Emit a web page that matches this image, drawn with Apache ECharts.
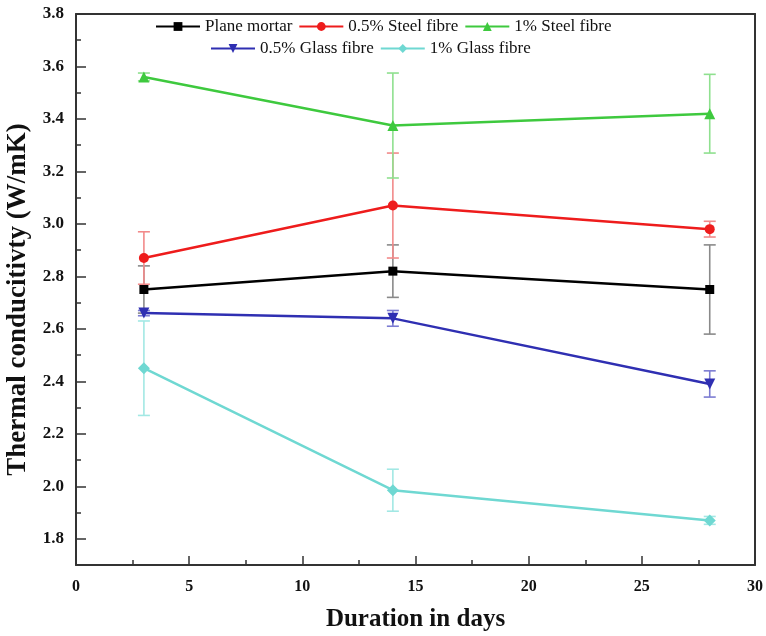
<!DOCTYPE html>
<html>
<head>
<meta charset="utf-8">
<script src="https://cdn.jsdelivr.net/npm/echarts@6/dist/echarts.min.js"></script>
<style>
  html, body { margin: 0; padding: 0; background: #fff; }
  #chart { width: 766px; height: 636px; }
</style>
</head>
<body>
<div id="chart"></div>
<script>
// Curing age (days)
var days = [3, 14, 28];

// Thermal conductivity (W/mK) and standard deviation per mix
var planeMortar    = [2.75, 2.82, 2.75];
var planeMortarErr = [0.09, 0.10, 0.17];
var steel05        = [2.87, 3.07, 2.98];
var steel05Err     = [0.10, 0.20, 0.03];
var steel1         = [3.56, 3.375, 3.42];
var steel1Err      = [0.015, 0.20, 0.15];
var glass05        = [2.66, 2.64, 2.39];
var glass05Err     = [0.01, 0.03, 0.05];
var glass1         = [2.45, 1.985, 1.87];
var glass1Err      = [0.18, 0.08, 0.015];

// Axis ticks
var yMajorTicks = [1.8, 2.0, 2.2, 2.4, 2.6, 2.8, 3.0, 3.2, 3.4, 3.6, 3.8];
var yMinorTicks = [1.9, 2.1, 2.3, 2.5, 2.7, 2.9, 3.1, 3.3, 3.5, 3.7];

var serif = '"Liberation Serif", "Times New Roman", serif';
var axisColor = '#333';

var mixes = [
  { name: 'Plane mortar',      values: planeMortar, err: planeMortarErr, color: '#000000', errColor: '#8a8a8a', symbol: 'rect',     size: 9,  rotate: 0 },
  { name: '0.5% Steel fibre',  values: steel05,     err: steel05Err,     color: '#ee1c1c', errColor: '#f28a8a', symbol: 'circle',   size: 10, rotate: 0 },
  { name: '1% Steel fibre',    values: steel1,      err: steel1Err,      color: '#3ec93e', errColor: '#8fe08f', symbol: 'triangle', size: 11, rotate: 0 },
  { name: '0.5% Glass fibre',  values: glass05,     err: glass05Err,     color: '#2f2fb2', errColor: '#7c7cd2', symbol: 'triangle', size: 11, rotate: 180 },
  { name: '1% Glass fibre',    values: glass1,      err: glass1Err,      color: '#6fd8d2', errColor: '#a2e8e4', symbol: 'diamond',  size: 12, rotate: 0 }
];

function errorBarRenderer(color) {
  return function (params, api) {
    var x = api.value(0);
    var lo = api.coord([x, api.value(1)]);
    var hi = api.coord([x, api.value(2)]);
    var half = 6;
    var style = { stroke: color, lineWidth: 1.6 };
    return {
      type: 'group',
      children: [
        { type: 'line', shape: { x1: lo[0], y1: lo[1], x2: hi[0], y2: hi[1] }, style: style },
        { type: 'line', shape: { x1: lo[0] - half, y1: lo[1], x2: lo[0] + half, y2: lo[1] }, style: style },
        { type: 'line', shape: { x1: hi[0] - half, y1: hi[1], x2: hi[0] + half, y2: hi[1] }, style: style }
      ]
    };
  };
}

var series = [];
mixes.forEach(function (m) {
  series.push({
    type: 'custom',
    name: m.name + ' error',
    renderItem: errorBarRenderer(m.errColor),
    data: days.map(function (d, i) { return [d, m.values[i] - m.err[i], m.values[i] + m.err[i]]; }),
    encode: { x: 0, y: [1, 2] },
    z: 1,
    silent: true
  });
});
mixes.forEach(function (m) {
  series.push({
    type: 'line',
    name: m.name,
    data: days.map(function (d, i) { return [d, m.values[i]]; }),
    symbol: m.symbol,
    symbolSize: m.size,
    symbolRotate: m.rotate,
    showAllSymbol: true,
    lineStyle: { color: m.color, width: 2.5 },
    itemStyle: { color: m.color },
    z: 3
  });
});

var legendText = { fontFamily: serif, fontSize: 17, color: '#111' };

var option = {
  animation: false,
  backgroundColor: '#ffffff',
  grid: { left: 76, right: 11, top: 14, bottom: 71, containLabel: false, outerBoundsMode: 'none' },
  legend: [
    {
      data: mixes.slice(0, 3).map(function (m) { return m.name; }),
      left: 150, top: 13, itemWidth: 44, itemHeight: 11, itemGap: 6,
      textStyle: legendText
    },
    {
      data: mixes.slice(3).map(function (m) { return m.name; }),
      left: 205, top: 35, itemWidth: 44, itemHeight: 11, itemGap: 6,
      textStyle: legendText
    }
  ],
  xAxis: [
    {
      type: 'value', position: 'bottom', min: 0, max: 30, interval: 5,
      name: 'Duration in days', nameLocation: 'middle', nameGap: 42,
      nameTextStyle: { fontFamily: serif, fontSize: 25, fontWeight: 'bold', color: '#111' },
      axisLine: { lineStyle: { color: axisColor, width: 2 } },
      axisTick: { inside: true, length: 9, lineStyle: { color: axisColor, width: 1.5 } },
      minorTick: { show: true, splitNumber: 2, length: 5, lineStyle: { color: axisColor, width: 1.5 } },
      axisLabel: { fontFamily: serif, fontSize: 16, fontWeight: 'bold', color: '#111', margin: 14 },
      splitLine: { show: false }
    },
    {
      type: 'value', position: 'top', min: 0, max: 30,
      axisLine: { lineStyle: { color: axisColor, width: 2 } },
      axisTick: { show: false }, axisLabel: { show: false }, splitLine: { show: false }
    }
  ],
  yAxis: [
    {
      type: 'value', position: 'left', min: 1.7, max: 3.8,
      name: 'Thermal conducitivty (W/mK)', nameLocation: 'middle', nameGap: 40,
      nameTextStyle: { fontFamily: serif, fontSize: 27, fontWeight: 'bold', color: '#111', padding: [0, 20, 0, 0] },
      axisLine: { lineStyle: { color: axisColor, width: 2 } },
      axisTick: { inside: true, length: 10, customValues: yMajorTicks, lineStyle: { color: axisColor, width: 1.5 } },
      axisLabel: {
        customValues: yMajorTicks, fontFamily: serif, fontSize: 17, fontWeight: 'bold', color: '#111', margin: 12,
        formatter: function (v) { return v.toFixed(1); }
      },
      splitLine: { show: false }
    },
    {
      type: 'value', position: 'left', offset: 0, min: 1.7, max: 3.8,
      axisLine: { show: false },
      axisTick: { inside: true, length: 5, customValues: yMinorTicks, lineStyle: { color: axisColor, width: 1.5 } },
      axisLabel: { show: false },
      splitLine: { show: false }
    },
    {
      type: 'value', position: 'right', min: 1.7, max: 3.8,
      axisLine: { show: true, lineStyle: { color: axisColor, width: 2 } },
      axisTick: { show: false }, axisLabel: { show: false }, splitLine: { show: false }
    }
  ],
  series: series
};

echarts.init(document.getElementById('chart'), null, { renderer: 'canvas' }).setOption(option);
</script>
</body>
</html>
